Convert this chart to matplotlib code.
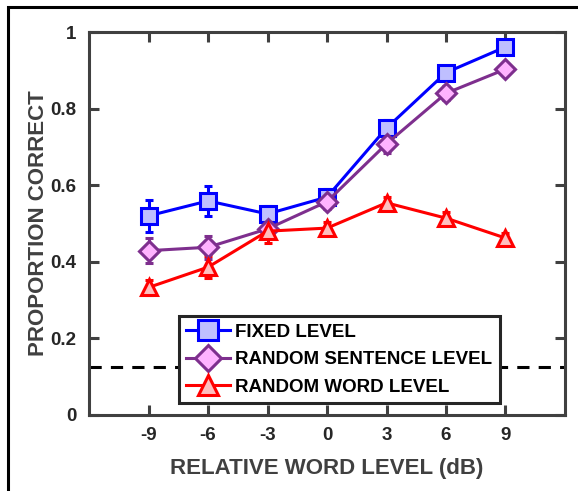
import matplotlib
matplotlib.use("Agg")
import matplotlib.pyplot as plt
from matplotlib.patches import Rectangle

plt.rcParams['font.family'] = ['Liberation Sans', 'DejaVu Sans']
plt.rcParams['font.weight'] = 'bold'

# data
levels = [-9, -6, -3, 0, 3, 6, 9]
fixed = [0.52, 0.559, 0.525, 0.569, 0.749, 0.894, 0.961]
fixed_err = [0.042, 0.040, 0.020, 0.020, 0.022, 0.016, 0.010]
sentence = [0.429, 0.438, 0.486, 0.557, 0.708, 0.840, 0.903]
sentence_err = [0.033, 0.030, 0.020, 0.020, 0.025, 0.018, 0.012]
word = [0.333, 0.386, 0.480, 0.488, 0.554, 0.514, 0.462]
word_err = [0.020, 0.028, 0.030, 0.015, 0.015, 0.015, 0.012]
chance = 0.125

series = [
    ("FIXED LEVEL", fixed, fixed_err, 's', '#0000FF', '#BFBFFF'),
    ("RANDOM SENTENCE LEVEL", sentence, sentence_err, 'D', '#7E2F8E', '#FFB3FF'),
    ("RANDOM WORD LEVEL", word, word_err, '^', '#FF0000', '#FFBFBF'),
]

fig = plt.figure(figsize=(5.78, 4.91), dpi=100)
ax = fig.add_axes([0.154, 0.1548, 0.8235, 0.78])

# outer frame
fig.patches.append(Rectangle((8 / 578, -0.1), 1.2, 1 - 7 / 491 + 0.1,
                             transform=fig.transFigure, fill=False,
                             edgecolor='black', linewidth=2.2))

ax.axhline(chance, color='black', linestyle=(0, (4, 3)), linewidth=2.2, zorder=1)

handles = []
for label, vals, err, mk, col, face in series:
    msize = 11.5 if mk != 'D' else 10.5
    h = ax.errorbar(levels, vals, yerr=err, color=col, marker=mk, markersize=msize,
                    markerfacecolor=face, markeredgecolor=col, markeredgewidth=2.2,
                    linewidth=2.2, elinewidth=2.2, capsize=3.2, capthick=2.2,
                    label=label, zorder=3)
    handles.append(h.lines[0])

ax.set_xlim(-12, 12)
ax.set_ylim(0, 1)
ax.set_xticks(levels)
ax.set_xticklabels([str(v) for v in levels])
ax.set_yticks([0, 0.2, 0.4, 0.6, 0.8, 1])
ax.set_yticklabels(['0', '0.2', '0.4', '0.6', '0.8', '1'])

for s in ax.spines.values():
    s.set_linewidth(2.2)
    s.set_color('#404040')
ax.tick_params(direction='in', length=7, width=2.2, color='#404040',
               top=True, right=True, labelsize=13.5, labelcolor='#262626', pad=9)
for t in ax.get_xticklabels() + ax.get_yticklabels():
    t.set_fontweight('bold')

ax.set_xlabel("RELATIVE WORD LEVEL (dB)", fontsize=16, fontweight='bold',
              color='#404040', labelpad=10)
ax.set_ylabel("PROPORTION CORRECT", fontsize=16, fontweight='bold',
              color='#404040', labelpad=1)

leg = ax.legend(handles=handles, labels=[s[0] for s in series],
                loc='lower right', bbox_to_anchor=(0.863, 0.031),
                fontsize=13.5, frameon=True, fancybox=False, handlelength=2.3,
                handletextpad=0.3, borderpad=0.4, labelspacing=0.55,
                borderaxespad=0, markerscale=1.25)
leg.get_frame().set_edgecolor('#262626')
leg.get_frame().set_linewidth(2.2)
leg.get_frame().set_alpha(1)
for t in leg.get_texts():
    t.set_fontweight('bold')
    t.set_color('black')

fig.savefig("out.png", dpi=100)
